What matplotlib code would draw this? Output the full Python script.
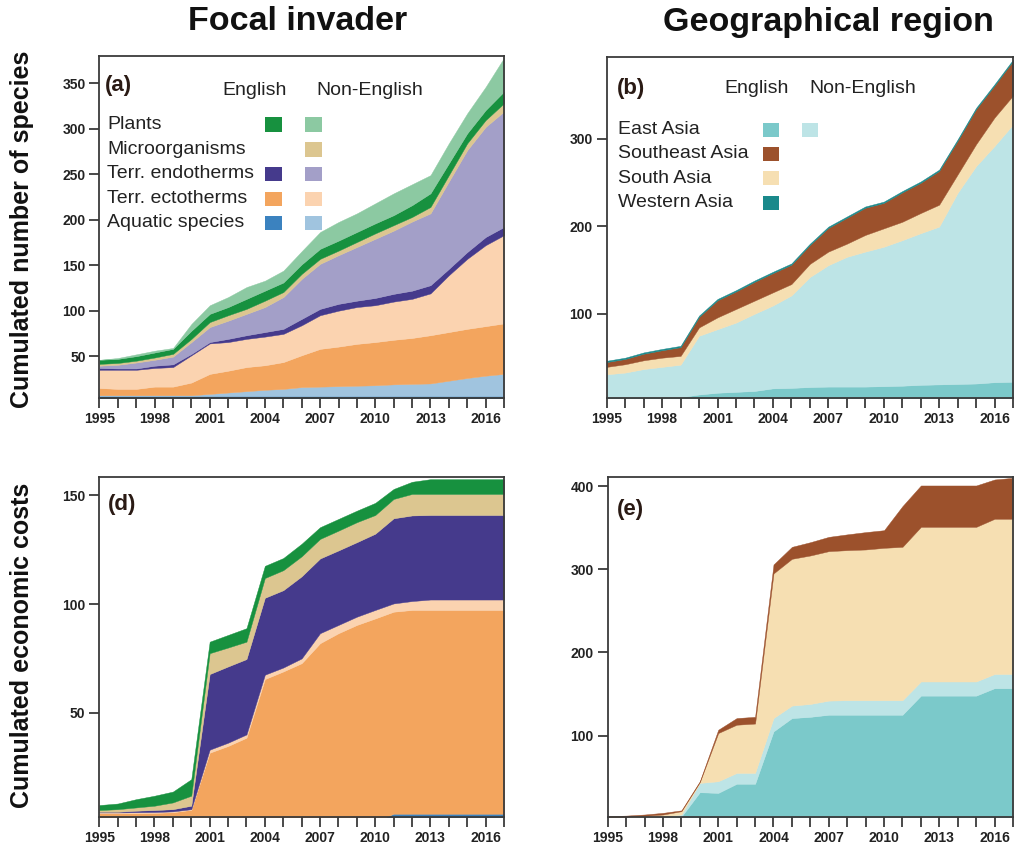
import matplotlib
matplotlib.use("Agg")
import matplotlib.pyplot as plt
from matplotlib.patches import Rectangle
import numpy as np

plt.rcParams['font.family'] = ['Liberation Sans', 'DejaVu Sans']

years = list(range(1995, 2018))
xtick_labels = [str(y) if (y - 1995) % 3 == 0 else '' for y in years]

# ---------- Panel (a): number of species by focal invader ----------
a_aquatic_en = [6] * 23
a_aquatic_non = [1, 1, 1, 1, 1, 1, 2.5, 4, 5.5, 7, 8, 10, 10.5, 11, 11.5, 12, 13, 13.5, 14, 17, 20, 22.5, 24.5]
a_ecto_en = [8, 7, 7, 9.5, 9.5, 14, 22, 24, 26.5, 27, 29.5, 35, 41.5, 43.5, 46, 47.5, 49, 50.5, 53, 53.5, 54, 54.5, 55.5]
a_ecto_non = [20, 21, 21, 20.5, 21.5, 30, 33.5, 31.5, 31, 31.5, 31, 33, 37, 39.5, 40.5, 40.5, 42, 43, 46, 62.5, 77, 89, 97]
a_endo_en = [2, 1.5, 1.5, 2.5, 3, 1.5, 1.5, 3.5, 4, 5, 5.5, 7, 7, 7.5, 7, 8, 8.5, 9, 9, 7, 7.5, 9, 9]
a_endo_non = [2.5, 4, 6.5, 6.5, 8.5, 13, 16.5, 20, 23.5, 27.5, 35, 44, 49.5, 53.5, 59, 65, 69.5, 76, 79, 96, 112, 121, 127]
a_micro_non = [2, 2, 2, 2.5, 3, 3.5, 5.5, 6, 5.5, 7, 5.5, 5.5, 5.5, 5, 5.5, 6, 6, 5, 7, 7, 7.5, 7.5, 9]
a_plants_en = [4.5, 4.5, 5, 5.5, 5.5, 9, 9, 9, 11, 11, 10.5, 10.5, 11, 11, 11, 11, 11, 13, 15, 13, 11, 11, 13]
a_plants_non = [0, 1, 2, 2, 1, 7.5, 9.5, 11, 13, 11, 13, 14.5, 18.5, 20.5, 20.5, 22, 24, 23, 20, 22, 22, 25.5, 37]

# ---------- Panel (b): number of species by region ----------
b_east_en = [5, 5, 5, 5, 5, 8, 10, 11, 12, 15, 15.5, 16.5, 17, 17, 17, 17.5, 18, 19, 19.5, 20, 20.5, 22, 22.5]
b_east_non = [26, 28, 32, 34.5, 37, 67, 72.5, 79, 88, 94.5, 105.5, 125.5, 138.5, 148, 154, 159, 166, 173, 180, 218, 248, 269.5, 293.5]
b_south_en = [8.5, 9.5, 10, 10.5, 10, 9.5, 13.5, 15.5, 15, 15, 13, 15, 15.5, 15, 19, 21, 21, 23, 25, 21, 25, 32.5, 33]
b_southeast_en = [5.5, 6, 7.5, 8.5, 10, 12, 19.5, 20, 21.5, 22, 22, 21.5, 27, 29.5, 31, 29, 33.5, 34.5, 38.5, 38.5, 40, 36.5, 39.5]
b_western_en = [1.5] * 23

# ---------- Panel (d): economic costs by focal invader ----------
d_aquatic_en = [0] * 16 + [3.5] * 7
d_ecto_en = [3.7, 3.7, 3.8, 3.9, 4.2, 5.3, 31.6, 34.7, 38.5, 65.5, 69, 72.8, 82, 86.6, 90.4, 93.4, 93, 93.8, 93.8, 93.8, 93.8, 93.8, 93.8]
d_ecto_non = [0.4, 0.4, 0.4, 0.4, 0.4, 0.3, 1.4, 1.5, 1.5, 2, 1.8, 2.2, 4.6, 3.8, 3.8, 3.9, 3.8, 4.1, 4.8, 4.8, 4.8, 4.8, 4.8]
d_endo_en = [0.3, 0.3, 0.7, 0.9, 1, 1.6, 34.8, 35.1, 34.7, 35.4, 35.6, 37.8, 34.4, 34.3, 34.3, 35.1, 39.2, 39.4, 38.9, 38.9, 38.9, 38.9, 38.9]
d_micro_non = [0.8, 1.2, 1.5, 2, 3.1, 4.6, 9.6, 8.7, 8, 9.1, 9.2, 9.2, 9, 9.1, 9.2, 8.6, 8.9, 9.9, 9.7, 9.7, 9.7, 9.7, 9.7]
d_plants_en = [2.3, 2.6, 3.8, 4.6, 5, 7.6, 5.3, 5.8, 6.2, 5.6, 5.6, 5.8, 5.4, 5.4, 5.3, 5.6, 4.6, 5.6, 6.8, 6.8, 6.8, 6.8, 6.8]

# ---------- Panel (e): economic costs by region ----------
e_east_en = [1, 1, 1.5, 2, 2.5, 31.8, 31, 42, 42, 105, 121, 122.5, 125, 125, 125, 125, 125, 148, 148, 148, 148, 157, 157]
e_east_non = [1, 1, 1, 1, 2.5, 11.2, 14, 13, 13, 16, 15, 15.5, 17, 17.5, 17.5, 17.5, 17.5, 17, 17, 17, 17, 17, 17]
e_south_en = [0.1, 0.5, 1, 2, 4, 1, 58, 58, 59.4, 174, 176.6, 178.6, 179.8, 180.5, 181.3, 183.3, 184.5, 186, 186, 186, 186, 186.7, 186.7]
e_southeast_en = [0.9, 1.2, 1.5, 2, 1, 1, 4, 8, 8.1, 10.8, 14.4, 16, 17.2, 19, 20.9, 21.2, 49, 49.8, 49.8, 49.8, 49.8, 47.3, 49.3]

# ---------- colours ----------
C = {
    'plants_en': '#17913f', 'plants_non': '#8cc9a2',
    'micro_non': '#dcc690',
    'endo_en': '#453a8c', 'endo_non': '#a39fc8',
    'ecto_en': '#f3a55e', 'ecto_non': '#fbd3b0',
    'aq_en': '#3b82bf', 'aq_non': '#a0c4df',
    'east_en': '#7bc9ca', 'east_non': '#bde4e6',
    'se_en': '#9c512c', 'south_en': '#f6dfb2', 'west_en': '#1a898b',
}

fig = plt.figure(figsize=(10.18, 8.59), dpi=100)
ax_a = fig.add_axes([0.09774, 0.53667, 0.39735, 0.39814])
ax_b = fig.add_axes([0.59597, 0.53667, 0.39912, 0.39697])
ax_d = fig.add_axes([0.09754, 0.04889, 0.39754, 0.39581])
ax_e = fig.add_axes([0.59695, 0.04889, 0.39813, 0.39581])

def stack(ax, layers, colors):
    ax.stackplot(years, *layers, colors=colors, edgecolor='face', linewidth=0.3)

stack(ax_a, [a_aquatic_en, a_aquatic_non, a_ecto_en, a_ecto_non, a_endo_en, a_endo_non,
             a_micro_non, a_plants_en, a_plants_non],
      [C['aq_en'], C['aq_non'], C['ecto_en'], C['ecto_non'], C['endo_en'], C['endo_non'],
       C['micro_non'], C['plants_en'], C['plants_non']])
stack(ax_b, [b_east_en, b_east_non, b_south_en, b_southeast_en, b_western_en],
      [C['east_en'], C['east_non'], C['south_en'], C['se_en'], C['west_en']])
stack(ax_d, [d_aquatic_en, d_ecto_en, d_ecto_non, d_endo_en, d_micro_non, d_plants_en],
      [C['aq_en'], C['ecto_en'], C['ecto_non'], C['endo_en'], C['micro_non'], C['plants_en']])
stack(ax_e, [e_east_en, e_east_non, e_south_en, e_southeast_en],
      [C['east_en'], C['east_non'], C['south_en'], C['se_en']])

settings = [
    (ax_a, (4, 380), [50, 100, 150, 200, 250, 300, 350]),
    (ax_b, (4, 393), [100, 200, 300]),
    (ax_d, (2, 158.5), [50, 100, 150]),
    (ax_e, (2, 411), [100, 200, 300, 400]),
]
for ax, yl, yt in settings:
    ax.set_xlim(1995, 2017)
    ax.set_ylim(*yl)
    ax.set_yticks(yt)
    ax.set_xticks(years)
    ax.set_xticklabels(xtick_labels)
    for s in ax.spines.values():
        s.set_color('#3a3a3a')
        s.set_linewidth(1.3)
        s.set_zorder(5)
    ax.tick_params(direction='out', length=7, width=1.3, color='#3a3a3a',
                   labelsize=10, labelcolor='#222222', pad=3)
    for lab in ax.get_xticklabels() + ax.get_yticklabels():
        lab.set_fontweight('bold')

# panel letters
for ax, lab, x, y in [(ax_a, '(a)', 0.014, 0.915), (ax_b, '(b)', 0.025, 0.909),
                      (ax_d, '(d)', 0.0215, 0.918), (ax_e, '(e)', 0.023, 0.903)]:
    ax.text(x, y, lab, transform=ax.transAxes, fontsize=16, fontweight='bold',
            color='#2a1a14', ha='left', va='center')

# legends (a)
a_names = ['Plants', 'Microorganisms', 'Terr. endotherms', 'Terr. ectotherms', 'Aquatic species']
a_en_cols = [C['plants_en'], None, C['endo_en'], C['ecto_en'], C['aq_en']]
a_non_cols = [C['plants_non'], C['micro_non'], C['endo_non'], C['ecto_non'], C['aq_non']]
a_rows = [0.800, 0.727, 0.655, 0.582, 0.512]
ax_a.text(0.384, 0.90, 'English', transform=ax_a.transAxes, fontsize=14, ha='center', va='center', color='#222')
ax_a.text(0.669, 0.90, 'Non-English', transform=ax_a.transAxes, fontsize=14, ha='center', va='center', color='#222')
sw, sh = 0.042, 0.043
for name, ce, cn, yy in zip(a_names, a_en_cols, a_non_cols, a_rows):
    ax_a.text(0.0185, yy, name, transform=ax_a.transAxes, fontsize=14, ha='left', va='center', color='#222')
    if ce:
        ax_a.add_patch(Rectangle((0.429 - sw / 2, yy - sh / 2), sw, sh, transform=ax_a.transAxes,
                                 facecolor=ce, edgecolor='none', zorder=6))
    if cn:
        ax_a.add_patch(Rectangle((0.529 - sw / 2, yy - sh / 2), sw, sh, transform=ax_a.transAxes,
                                 facecolor=cn, edgecolor='none', zorder=6))

# legends (b)
b_names = ['East Asia', 'Southeast Asia', 'South Asia', 'Western Asia']
b_en_cols = [C['east_en'], C['se_en'], C['south_en'], C['west_en']]
b_non_cols = [C['east_non'], None, None, None]
b_rows = [0.786, 0.716, 0.645, 0.572]
ax_b.text(0.370, 0.909, 'English', transform=ax_b.transAxes, fontsize=14, ha='center', va='center', color='#222')
ax_b.text(0.631, 0.909, 'Non-English', transform=ax_b.transAxes, fontsize=14, ha='center', va='center', color='#222')
sw2 = 0.040
for name, ce, cn, yy in zip(b_names, b_en_cols, b_non_cols, b_rows):
    ax_b.text(0.028, yy, name, transform=ax_b.transAxes, fontsize=14, ha='left', va='center', color='#222')
    if ce:
        ax_b.add_patch(Rectangle((0.404 - sw2 / 2, yy - sh / 2), sw2, sh, transform=ax_b.transAxes,
                                 facecolor=ce, edgecolor='none', zorder=6))
    if cn:
        ax_b.add_patch(Rectangle((0.500 - sw2 / 2, yy - sh / 2), sw2, sh, transform=ax_b.transAxes,
                                 facecolor=cn, edgecolor='none', zorder=6))

# column titles and row labels
fig.text(298 / 1018, 1 - 22 / 859, 'Focal invader', fontsize=24.5, fontweight='bold', ha='center', va='center', color='#111')
fig.text(828 / 1018, 1 - 22 / 859, 'Geographical region', fontsize=24.5, fontweight='bold', ha='center', va='center', color='#111')
fig.text(22 / 1018, 1 - 229 / 859, 'Cumulated number of species', fontsize=18, fontweight='bold',
         rotation=90, ha='center', va='center', color='#111')
fig.text(22 / 1018, 1 - 645 / 859, 'Cumulated economic costs', fontsize=18, fontweight='bold',
         rotation=90, ha='center', va='center', color='#111')

fig.savefig('out.png', dpi=100)
